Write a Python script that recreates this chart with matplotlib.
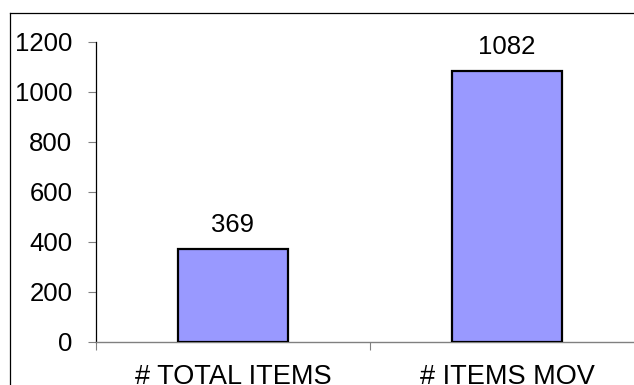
import matplotlib
matplotlib.use("Agg")
import matplotlib.pyplot as plt
from matplotlib.lines import Line2D

categories = ["# TOTAL ITEMS", "# ITEMS MOV"]
values = [369, 1082]
y_ticks = [0, 200, 400, 600, 800, 1000, 1200]

plt.rcParams['font.family'] = ['Liberation Sans', 'DejaVu Sans']

W, H = 634, 385
fig = plt.figure(figsize=(W / 100, H / 100), dpi=100)

# plot area: y axis at x=96 px, zero line at y=342 px, 1200 at y=42 px
ax = fig.add_axes([96 / W, (H - 341.7) / H, 548 / W, 300 / H])
x = list(range(len(categories)))
ax.bar(x, values, width=0.4, color="#9999FF", edgecolor="black", linewidth=1.6, zorder=3)

for xi, v in zip(x, values):
    ax.annotate(str(v), (xi, v), xytext=(0, 9), textcoords="offset points",
                ha="center", va="bottom", fontsize=18.5)

ax.set_xlim(-0.5, 1.5)
ax.set_ylim(0, 1200)
ax.set_yticks(y_ticks)
ax.set_xticks(x)
ax.set_xticklabels(categories)
ax.set_xticks([-0.5, 0.5, 1.5], minor=True)

ax.tick_params(axis="y", direction="out", length=6, width=0.8, color="#808080",
               pad=11, labelsize=18.5)
ax.tick_params(axis="x", which="major", length=0, pad=16, labelsize=19.5)
ax.tick_params(axis="x", which="minor", direction="out", length=6, width=0.8, color="#808080")

ax.spines["top"].set_visible(False)
ax.spines["right"].set_visible(False)
ax.spines["left"].set_color("black")
ax.spines["left"].set_linewidth(0.9)
ax.spines["bottom"].set_color("#808080")
ax.spines["bottom"].set_linewidth(1.0)

# chart frame (left and top edges; the rest runs off the image)
fx, fy = 9.5 / W, 1 - 12.5 / H
fig.add_artist(Line2D([fx, fx], [fy, -0.1], transform=fig.transFigure, color="black", lw=0.9))
fig.add_artist(Line2D([fx, 1.1], [fy, fy], transform=fig.transFigure, color="black", lw=0.9))

fig.savefig("out.png", dpi=100)
